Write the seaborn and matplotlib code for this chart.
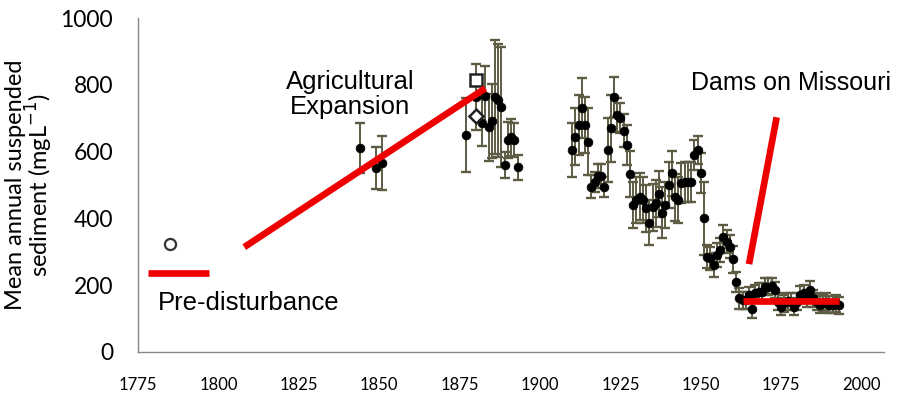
import numpy as np
import pandas as pd
import seaborn as sns
import matplotlib.pyplot as plt

# annual suspended sediment
years = [1844, 1849, 1851,
         1877, 1880, 1882, 1883, 1884, 1885, 1886, 1887, 1888, 1889, 1890, 1891, 1892, 1893,
         1910, 1911, 1912, 1913, 1914, 1915, 1916, 1917, 1918, 1919, 1920, 1921, 1922, 1923,
         1924, 1925, 1926, 1927, 1928, 1929, 1930, 1931, 1932, 1933, 1934, 1935, 1936, 1937,
         1938, 1939, 1940, 1941, 1942, 1943, 1944, 1945, 1946, 1947, 1948, 1949, 1950, 1951,
         1952, 1953, 1954, 1955, 1956, 1957, 1958, 1959, 1960, 1961, 1962, 1963, 1964, 1965,
         1966, 1967, 1968, 1969, 1970, 1971, 1972, 1973, 1974, 1975, 1976, 1977, 1978, 1979,
         1980, 1981, 1982, 1983, 1984, 1985, 1986, 1987, 1988, 1989, 1990, 1991, 1992, 1993]
sediment = [611, 551, 566,
            650, 764, 687, 766, 673, 692, 764, 754, 734, 560, 635, 643, 635, 553,
            605, 645, 680, 730, 680, 630, 495, 510, 527, 527, 495, 605, 670, 764,
            710, 700, 663, 620, 533, 440, 455, 465, 455, 430, 387, 433, 445, 473,
            417, 440, 500, 535, 463, 455, 505, 510, 510, 510, 590, 605, 535, 400,
            285, 280, 260, 290, 305, 345, 330, 315, 277, 210, 160, 155, 155, 170,
            128, 175, 180, 180, 195, 195, 197, 185, 150, 136, 145, 151, 150, 136,
            150, 171, 175, 160, 186, 160, 150, 141, 145, 150, 141, 141, 145, 140]
err = [75, 63, 80,
       110, 100, 70, 90, 100, 110, 170, 170, 180, 40, 55, 55, 50, 37,
       80, 85, 90, 90, 85, 100, 35, 30, 35, 35, 30, 95, 100, 60,
       50, 45, 50, 60, 70, 70, 70, 70, 70, 70, 67, 70, 70, 70,
       76, 70, 70, 68, 70, 70, 60, 60, 60, 60, 45, 42, 60, 110,
       35, 35, 35, 35, 35, 35, 35, 35, 40, 30, 30, 25, 25, 25,
       25, 25, 25, 25, 25, 25, 25, 25, 25, 25, 25, 25, 25, 25,
       25, 25, 25, 25, 25, 25, 25, 25, 25, 25, 25, 25, 25, 25]

# single estimates
pre_year, pre_val = [1785], [323]
square_year, square_val = [1880], [814]
diamond_year, diamond_val = [1880], [707]

# red trend segments (year, value)
pre_line_x, pre_line_y = [1778, 1797], [236, 236]
ag_line_x, ag_line_y = [1808, 1883], [314, 790]
dam_line_x, dam_line_y = [1965, 1973.6], [263, 703]
post_line_x, post_line_y = [1963, 1993], [153, 153]

df = pd.DataFrame({'Year': years, 'Sediment': sediment, 'Err': err})

sns.set_style('white')
plt.rcParams['font.family'] = ['Liberation Sans', 'DejaVu Sans']
plt.rcParams['text.color'] = 'black'
plt.rcParams['axes.labelcolor'] = 'black'

fig = plt.figure(figsize=(9.03, 4.04), dpi=100)
ax = fig.add_axes([0.153, 0.129, 0.826, 0.826])

ax.errorbar(df['Year'], df['Sediment'], yerr=df['Err'], fmt='none',
            ecolor='#5f5c44', elinewidth=1.4, capsize=3.5, capthick=1.7, zorder=2)
sns.scatterplot(x='Year', y='Sediment', data=df, ax=ax, color='black', s=40,
                edgecolor='black', linewidth=0.5, zorder=3, legend=False)

ax.plot(pre_year, pre_val, 'o', mfc='white', mec='#333333', ms=8, mew=1.6, zorder=4)
ax.plot(square_year, square_val, 's', mfc='white', mec='#222222', ms=9, mew=1.8, zorder=4)
ax.plot(diamond_year, diamond_val, 'D', mfc='white', mec='#222222', ms=7, mew=1.8, zorder=4)

red = '#ee0000'
for lx, ly in [(pre_line_x, pre_line_y), (ag_line_x, ag_line_y),
               (dam_line_x, dam_line_y), (post_line_x, post_line_y)]:
    ax.plot(lx, ly, color=red, lw=4.8, solid_capstyle='butt', zorder=5)

ax.text(1841, 772, 'Agricultural\nExpansion', ha='center', va='center',
        fontsize=18.5, linespacing=1.05)
ax.text(1978, 805, 'Dams on Missouri', ha='center', va='center', fontsize=18)
ax.text(1781, 147, 'Pre-disturbance', ha='left', va='center', fontsize=18.5)

ax.set_xlim(1775, 2007)
ax.set_ylim(0, 1000)
ax.set_xticks(np.arange(1775, 2001, 25))
ax.set_yticks(np.arange(0, 1001, 200))
for lab in ax.get_xticklabels():
    lab.set_fontfamily('Lato')
    lab.set_fontsize(12)
for lab in ax.get_yticklabels():
    lab.set_fontfamily('Lato')
    lab.set_fontsize(16.5)

ax.set_xlabel('')
ax.set_ylabel('Mean annual suspended\nsediment (mgL$^{-1}$)', fontsize=17,
              fontfamily='Lato', linespacing=0.9)
ax.yaxis.set_label_coords(-0.112, 0.5)

sns.despine(ax=ax)
for side in ['left', 'bottom']:
    ax.spines[side].set_color('#888888')
    ax.spines[side].set_linewidth(1.0)
ax.tick_params(axis='x', direction='out', length=6, color='#888888',
               labelcolor='black', pad=12)
ax.tick_params(axis='y', direction='out', length=4, color='#888888',
               labelcolor='black', pad=14)

plt.savefig('out.png', dpi=100)
